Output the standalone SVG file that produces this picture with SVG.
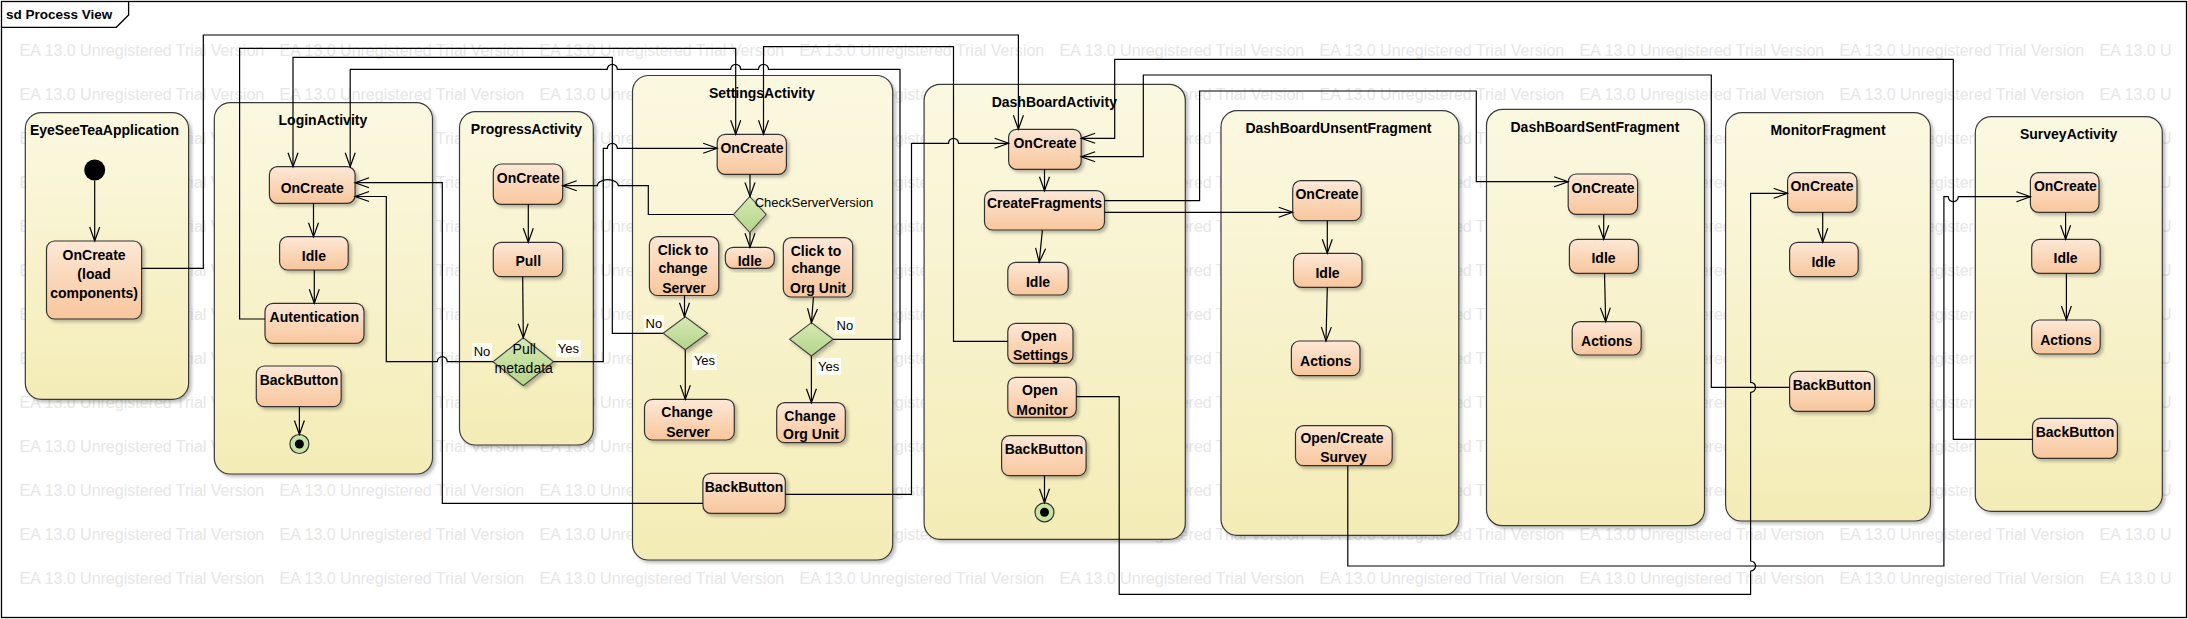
<svg xmlns="http://www.w3.org/2000/svg" width="2188" height="619" viewBox="0 0 2188 619">
<style>
.ctr{fill:url(#gC);stroke:#3a3a3a;stroke-width:1.2;filter:url(#sh)}
.nd{fill:url(#gN);stroke:#333;stroke-width:1.2;filter:url(#sh)}
.dm{fill:url(#gD);stroke:#444;stroke-width:1.1;filter:url(#sh)}
.t{font-family:"Liberation Sans",Arial,sans-serif;font-weight:bold;font-size:14px;text-anchor:middle;fill:#000}
.r{font-family:"Liberation Sans",Arial,sans-serif;font-size:14px;text-anchor:middle;fill:#000}
.lb{font-family:"Liberation Sans",Arial,sans-serif;font-size:13px;text-anchor:middle;fill:#000}
.wm{font-family:"Liberation Sans",Arial,sans-serif;font-size:16px;fill:#e6e6e6}
.cn{fill:none;stroke:#000;stroke-width:1.2;marker-end:url(#arr)}
.lbg{fill:#fffef4}
</style>
<defs>
<linearGradient id="gC" x1="0" y1="0" x2="0" y2="1"><stop offset="0" stop-color="#FBF8E1"/><stop offset="1" stop-color="#F4ECB6"/></linearGradient>
<linearGradient id="gN" x1="0" y1="0" x2="0" y2="1"><stop offset="0" stop-color="#FDE8D6"/><stop offset="1" stop-color="#F8C69C"/></linearGradient>
<linearGradient id="gD" x1="0" y1="0" x2="0" y2="1"><stop offset="0" stop-color="#D5EAB3"/><stop offset="1" stop-color="#B4D489"/></linearGradient>
<filter id="sh" x="-10%" y="-10%" width="130%" height="130%"><feDropShadow dx="2.5" dy="2.5" stdDeviation="1.5" flood-color="#000" flood-opacity="0.25"/></filter>
<marker id="arr" markerUnits="userSpaceOnUse" markerWidth="16" markerHeight="12" refX="14" refY="5" orient="auto" overflow="visible"><path d="M0,0 L14,5 L0,10" fill="none" stroke="#000" stroke-width="1.2"/></marker>
</defs>
<rect x="0" y="0" width="2188" height="619" fill="#fff"/>
<g id="watermark" class="wm">
<text y="56.4"><tspan x="19.6">EA 13.0 Unregistered Trial Version</tspan><tspan x="279.6">EA 13.0 Unregistered Trial Version</tspan><tspan x="539.6">EA 13.0 Unregistered Trial Version</tspan><tspan x="799.6">EA 13.0 Unregistered Trial Version</tspan><tspan x="1059.6">EA 13.0 Unregistered Trial Version</tspan><tspan x="1319.6">EA 13.0 Unregistered Trial Version</tspan><tspan x="1579.6">EA 13.0 Unregistered Trial Version</tspan><tspan x="1839.6">EA 13.0 Unregistered Trial Version</tspan><tspan x="2099.6">EA 13.0 U</tspan></text>
<text y="100.4"><tspan x="19.6">EA 13.0 Unregistered Trial Version</tspan><tspan x="279.6">EA 13.0 Unregistered Trial Version</tspan><tspan x="539.6">EA 13.0 Unregistered Trial Version</tspan><tspan x="799.6">EA 13.0 Unregistered Trial Version</tspan><tspan x="1059.6">EA 13.0 Unregistered Trial Version</tspan><tspan x="1319.6">EA 13.0 Unregistered Trial Version</tspan><tspan x="1579.6">EA 13.0 Unregistered Trial Version</tspan><tspan x="1839.6">EA 13.0 Unregistered Trial Version</tspan><tspan x="2099.6">EA 13.0 U</tspan></text>
<text y="144.4"><tspan x="19.6">EA 13.0 Unregistered Trial Version</tspan><tspan x="279.6">EA 13.0 Unregistered Trial Version</tspan><tspan x="539.6">EA 13.0 Unregistered Trial Version</tspan><tspan x="799.6">EA 13.0 Unregistered Trial Version</tspan><tspan x="1059.6">EA 13.0 Unregistered Trial Version</tspan><tspan x="1319.6">EA 13.0 Unregistered Trial Version</tspan><tspan x="1579.6">EA 13.0 Unregistered Trial Version</tspan><tspan x="1839.6">EA 13.0 Unregistered Trial Version</tspan><tspan x="2099.6">EA 13.0 U</tspan></text>
<text y="188.4"><tspan x="19.6">EA 13.0 Unregistered Trial Version</tspan><tspan x="279.6">EA 13.0 Unregistered Trial Version</tspan><tspan x="539.6">EA 13.0 Unregistered Trial Version</tspan><tspan x="799.6">EA 13.0 Unregistered Trial Version</tspan><tspan x="1059.6">EA 13.0 Unregistered Trial Version</tspan><tspan x="1319.6">EA 13.0 Unregistered Trial Version</tspan><tspan x="1579.6">EA 13.0 Unregistered Trial Version</tspan><tspan x="1839.6">EA 13.0 Unregistered Trial Version</tspan><tspan x="2099.6">EA 13.0 U</tspan></text>
<text y="232.4"><tspan x="19.6">EA 13.0 Unregistered Trial Version</tspan><tspan x="279.6">EA 13.0 Unregistered Trial Version</tspan><tspan x="539.6">EA 13.0 Unregistered Trial Version</tspan><tspan x="799.6">EA 13.0 Unregistered Trial Version</tspan><tspan x="1059.6">EA 13.0 Unregistered Trial Version</tspan><tspan x="1319.6">EA 13.0 Unregistered Trial Version</tspan><tspan x="1579.6">EA 13.0 Unregistered Trial Version</tspan><tspan x="1839.6">EA 13.0 Unregistered Trial Version</tspan><tspan x="2099.6">EA 13.0 U</tspan></text>
<text y="276.4"><tspan x="19.6">EA 13.0 Unregistered Trial Version</tspan><tspan x="279.6">EA 13.0 Unregistered Trial Version</tspan><tspan x="539.6">EA 13.0 Unregistered Trial Version</tspan><tspan x="799.6">EA 13.0 Unregistered Trial Version</tspan><tspan x="1059.6">EA 13.0 Unregistered Trial Version</tspan><tspan x="1319.6">EA 13.0 Unregistered Trial Version</tspan><tspan x="1579.6">EA 13.0 Unregistered Trial Version</tspan><tspan x="1839.6">EA 13.0 Unregistered Trial Version</tspan><tspan x="2099.6">EA 13.0 U</tspan></text>
<text y="320.4"><tspan x="19.6">EA 13.0 Unregistered Trial Version</tspan><tspan x="279.6">EA 13.0 Unregistered Trial Version</tspan><tspan x="539.6">EA 13.0 Unregistered Trial Version</tspan><tspan x="799.6">EA 13.0 Unregistered Trial Version</tspan><tspan x="1059.6">EA 13.0 Unregistered Trial Version</tspan><tspan x="1319.6">EA 13.0 Unregistered Trial Version</tspan><tspan x="1579.6">EA 13.0 Unregistered Trial Version</tspan><tspan x="1839.6">EA 13.0 Unregistered Trial Version</tspan><tspan x="2099.6">EA 13.0 U</tspan></text>
<text y="364.4"><tspan x="19.6">EA 13.0 Unregistered Trial Version</tspan><tspan x="279.6">EA 13.0 Unregistered Trial Version</tspan><tspan x="539.6">EA 13.0 Unregistered Trial Version</tspan><tspan x="799.6">EA 13.0 Unregistered Trial Version</tspan><tspan x="1059.6">EA 13.0 Unregistered Trial Version</tspan><tspan x="1319.6">EA 13.0 Unregistered Trial Version</tspan><tspan x="1579.6">EA 13.0 Unregistered Trial Version</tspan><tspan x="1839.6">EA 13.0 Unregistered Trial Version</tspan><tspan x="2099.6">EA 13.0 U</tspan></text>
<text y="408.4"><tspan x="19.6">EA 13.0 Unregistered Trial Version</tspan><tspan x="279.6">EA 13.0 Unregistered Trial Version</tspan><tspan x="539.6">EA 13.0 Unregistered Trial Version</tspan><tspan x="799.6">EA 13.0 Unregistered Trial Version</tspan><tspan x="1059.6">EA 13.0 Unregistered Trial Version</tspan><tspan x="1319.6">EA 13.0 Unregistered Trial Version</tspan><tspan x="1579.6">EA 13.0 Unregistered Trial Version</tspan><tspan x="1839.6">EA 13.0 Unregistered Trial Version</tspan><tspan x="2099.6">EA 13.0 U</tspan></text>
<text y="452.4"><tspan x="19.6">EA 13.0 Unregistered Trial Version</tspan><tspan x="279.6">EA 13.0 Unregistered Trial Version</tspan><tspan x="539.6">EA 13.0 Unregistered Trial Version</tspan><tspan x="799.6">EA 13.0 Unregistered Trial Version</tspan><tspan x="1059.6">EA 13.0 Unregistered Trial Version</tspan><tspan x="1319.6">EA 13.0 Unregistered Trial Version</tspan><tspan x="1579.6">EA 13.0 Unregistered Trial Version</tspan><tspan x="1839.6">EA 13.0 Unregistered Trial Version</tspan><tspan x="2099.6">EA 13.0 U</tspan></text>
<text y="496.4"><tspan x="19.6">EA 13.0 Unregistered Trial Version</tspan><tspan x="279.6">EA 13.0 Unregistered Trial Version</tspan><tspan x="539.6">EA 13.0 Unregistered Trial Version</tspan><tspan x="799.6">EA 13.0 Unregistered Trial Version</tspan><tspan x="1059.6">EA 13.0 Unregistered Trial Version</tspan><tspan x="1319.6">EA 13.0 Unregistered Trial Version</tspan><tspan x="1579.6">EA 13.0 Unregistered Trial Version</tspan><tspan x="1839.6">EA 13.0 Unregistered Trial Version</tspan><tspan x="2099.6">EA 13.0 U</tspan></text>
<text y="540.4"><tspan x="19.6">EA 13.0 Unregistered Trial Version</tspan><tspan x="279.6">EA 13.0 Unregistered Trial Version</tspan><tspan x="539.6">EA 13.0 Unregistered Trial Version</tspan><tspan x="799.6">EA 13.0 Unregistered Trial Version</tspan><tspan x="1059.6">EA 13.0 Unregistered Trial Version</tspan><tspan x="1319.6">EA 13.0 Unregistered Trial Version</tspan><tspan x="1579.6">EA 13.0 Unregistered Trial Version</tspan><tspan x="1839.6">EA 13.0 Unregistered Trial Version</tspan><tspan x="2099.6">EA 13.0 U</tspan></text>
<text y="584.4"><tspan x="19.6">EA 13.0 Unregistered Trial Version</tspan><tspan x="279.6">EA 13.0 Unregistered Trial Version</tspan><tspan x="539.6">EA 13.0 Unregistered Trial Version</tspan><tspan x="799.6">EA 13.0 Unregistered Trial Version</tspan><tspan x="1059.6">EA 13.0 Unregistered Trial Version</tspan><tspan x="1319.6">EA 13.0 Unregistered Trial Version</tspan><tspan x="1579.6">EA 13.0 Unregistered Trial Version</tspan><tspan x="1839.6">EA 13.0 Unregistered Trial Version</tspan><tspan x="2099.6">EA 13.0 U</tspan></text>
</g>
<g id="frame">
<rect x="1.5" y="1.5" width="2185" height="616" fill="none" stroke="#000" stroke-width="1.3"/>
<path d="M1.5,27.3 H116.3 L128.6,15 V1.5" fill="none" stroke="#000" stroke-width="1.3"/>
<text x="6" y="18.5" style="font-family:'Liberation Sans',Arial,sans-serif;font-weight:bold;font-size:13.5px;fill:#000">sd Process View</text>
</g>
<g id="EyeSeeTeaApplication"><rect class="ctr" x="25.3" y="112.7" width="163.3" height="286.6" rx="16"/><text class="t" x="104.5" y="135">EyeSeeTeaApplication</text></g>
<g id="LoginActivity"><rect class="ctr" x="214.3" y="102.7" width="218.2" height="371.3" rx="16"/><text class="t" x="322.9" y="125">LoginActivity</text></g>
<g id="ProgressActivity"><rect class="ctr" x="459.5" y="111.7" width="133.8" height="333.3" rx="16"/><text class="t" x="526.5" y="134">ProgressActivity</text></g>
<g id="SettingsActivity"><rect class="ctr" x="632.5" y="75.5" width="260.2" height="484.5" rx="16"/><text class="t" x="761.8" y="97.7">SettingsActivity</text></g>
<g id="DashBoardActivity"><rect class="ctr" x="924.1" y="84.3" width="261.2" height="455" rx="16"/><text class="t" x="1054.3" y="106.7">DashBoardActivity</text></g>
<g id="DashBoardUnsentFragment"><rect class="ctr" x="1221" y="110.7" width="237.8" height="424.6" rx="16"/><text class="t" x="1338.4" y="132.7">DashBoardUnsentFragment</text></g>
<g id="DashBoardSentFragment"><rect class="ctr" x="1486.5" y="109.3" width="218" height="416.4" rx="16"/><text class="t" x="1594.9" y="131.7">DashBoardSentFragment</text></g>
<g id="MonitorFragment"><rect class="ctr" x="1725.6" y="112.7" width="204.8" height="408.3" rx="16"/><text class="t" x="1828" y="135">MonitorFragment</text></g>
<g id="SurveyActivity"><rect class="ctr" x="1975.3" y="116.7" width="187" height="394.6" rx="16"/><text class="t" x="2068.6" y="139.3">SurveyActivity</text></g>

<g id="eye_initial"><circle cx="94.7" cy="170" r="10.5" fill="#000"/></g>
<g id="eye_oncreate"><rect class="nd" x="46.5" y="241" width="95.1" height="78" rx="8"/><text class="t" x="94.1" y="260">OnCreate</text><text class="t" x="94.1" y="279">(load</text><text class="t" x="94.1" y="298">components)</text></g>

<g id="login_oncreate"><rect class="nd" x="269.4" y="166.7" width="85.7" height="36.6" rx="8"/><text class="t" x="312.2" y="192.7">OnCreate</text></g>
<g id="login_idle"><rect class="nd" x="279.6" y="236.7" width="68.6" height="33.3" rx="8"/><text class="t" x="313.9" y="260.7">Idle</text></g>
<g id="login_autentication"><rect class="nd" x="265" y="303.3" width="99" height="40" rx="8"/><text class="t" x="314.3" y="321.7">Autentication</text></g>
<g id="login_backbutton"><rect class="nd" x="256.3" y="366" width="84.9" height="40.7" rx="8"/><text class="t" x="299" y="385">BackButton</text></g>
<g id="login_final"><circle cx="299.4" cy="444" r="9.5" fill="#c8e2a4" stroke="#333" stroke-width="1.2"/><circle cx="299.4" cy="444" r="4.5" fill="#000"/></g>

<g id="progress_oncreate"><rect class="nd" x="493.3" y="164" width="69.4" height="40.3" rx="8"/><text class="t" x="528.3" y="182.7">OnCreate</text></g>
<g id="progress_pull"><rect class="nd" x="493.3" y="242.3" width="69.4" height="34.4" rx="8"/><text class="t" x="528.3" y="266">Pull</text></g>
<g id="progress_pullmetadata"><polygon class="dm" points="523.3,337.7 553.6,361.7 523.3,385.7 493,361.7"/><text class="r" x="524.3" y="354.3">Pull</text><text class="r" x="523.7" y="373.3">metadata</text></g>

<g id="settings_oncreate"><rect class="nd" x="717.2" y="134.3" width="69.2" height="40" rx="8"/><text class="t" x="752" y="153.3">OnCreate</text></g>
<g id="settings_checkserverversion"><polygon class="dm" points="749.8,196.5 766.1,214.5 749.8,232.5 733.5,214.5"/><text class="lb" x="754.7" y="207.3" style="text-anchor:start">CheckServerVersion</text></g>
<g id="settings_idle"><rect class="nd" x="725.3" y="247.3" width="49" height="21" rx="8"/><text class="t" x="749.8" y="265.7">Idle</text></g>
<g id="settings_clickserver"><rect class="nd" x="649.4" y="236.7" width="69.4" height="58.8" rx="8"/><text class="t" x="683" y="255">Click to</text><text class="t" x="683" y="272.7">change</text><text class="t" x="684" y="292.7">Server</text></g>
<g id="settings_serverdecision"><polygon class="dm" points="685.3,316.8 707.5,333.3 685.3,349.8 663.1,333.3"/></g>
<g id="settings_changeserver"><rect class="nd" x="644.5" y="399.3" width="89.8" height="40.7" rx="8"/><text class="t" x="687" y="417.3">Change</text><text class="t" x="688" y="436.7">Server</text></g>
<g id="settings_clickorgunit"><rect class="nd" x="783.3" y="237.7" width="69.4" height="59.3" rx="8"/><text class="t" x="816" y="256">Click to</text><text class="t" x="816" y="273.3">change</text><text class="t" x="818" y="292.7">Org Unit</text></g>
<g id="settings_orgdecision"><polygon class="dm" points="811.4,322.6 833.2,339.3 811.4,356 789.6,339.3"/></g>
<g id="settings_changeorgunit"><rect class="nd" x="776.7" y="402.7" width="68.6" height="40" rx="8"/><text class="t" x="810" y="420.7">Change</text><text class="t" x="811" y="439.3">Org Unit</text></g>
<g id="settings_backbutton"><rect class="nd" x="702.9" y="473.3" width="82.4" height="40" rx="8"/><text class="t" x="744" y="491.7">BackButton</text></g>

<g id="db_oncreate"><rect class="nd" x="1008.6" y="129.3" width="72.6" height="40" rx="8"/><text class="t" x="1045" y="147.7">OnCreate</text></g>
<g id="db_createfragments"><rect class="nd" x="984.5" y="190.7" width="120" height="39.3" rx="8"/><text class="t" x="1044.5" y="208.3">CreateFragments</text></g>
<g id="db_idle"><rect class="nd" x="1007.8" y="262.3" width="60.4" height="32.7" rx="8"/><text class="t" x="1038" y="286.7">Idle</text></g>
<g id="db_opensettings"><rect class="nd" x="1007.8" y="323.3" width="65.2" height="40" rx="8"/><text class="t" x="1039" y="340.7">Open</text><text class="t" x="1040.5" y="360">Settings</text></g>
<g id="db_openmonitor"><rect class="nd" x="1007.8" y="377.3" width="68.5" height="40" rx="8"/><text class="t" x="1040" y="395">Open</text><text class="t" x="1042" y="415">Monitor</text></g>
<g id="db_backbutton"><rect class="nd" x="1001.6" y="435.7" width="84.5" height="40" rx="8"/><text class="t" x="1044" y="454">BackButton</text></g>
<g id="db_final"><circle cx="1044.5" cy="512.3" r="9.5" fill="#c8e2a4" stroke="#333" stroke-width="1.2"/><circle cx="1044.5" cy="512.3" r="4.5" fill="#000"/></g>

<g id="unsent_oncreate"><rect class="nd" x="1292.7" y="180.7" width="68.5" height="40" rx="8"/><text class="t" x="1327" y="199">OnCreate</text></g>
<g id="unsent_idle"><rect class="nd" x="1293.5" y="253.3" width="68.5" height="34" rx="8"/><text class="t" x="1327.5" y="277.7">Idle</text></g>
<g id="unsent_actions"><rect class="nd" x="1291.4" y="341" width="68.6" height="34.7" rx="8"/><text class="t" x="1325.7" y="366">Actions</text></g>
<g id="unsent_opencreatesurvey"><rect class="nd" x="1295.5" y="425.7" width="96.7" height="40" rx="8"/><text class="t" x="1342" y="443.3">Open/Create</text><text class="t" x="1343.5" y="461.7">Survey</text></g>

<g id="sent_oncreate"><rect class="nd" x="1568.2" y="174" width="69.4" height="40.3" rx="8"/><text class="t" x="1603" y="192.7">OnCreate</text></g>
<g id="sent_idle"><rect class="nd" x="1569.4" y="239.3" width="69" height="34" rx="8"/><text class="t" x="1603.5" y="263.3">Idle</text></g>
<g id="sent_actions"><rect class="nd" x="1572.2" y="321.7" width="69" height="33.3" rx="8"/><text class="t" x="1606.7" y="346">Actions</text></g>

<g id="monitor_oncreate"><rect class="nd" x="1787.6" y="172.7" width="69.4" height="39.6" rx="8"/><text class="t" x="1822" y="190.7">OnCreate</text></g>
<g id="monitor_idle"><rect class="nd" x="1789.6" y="242.3" width="68.6" height="34.4" rx="8"/><text class="t" x="1823.5" y="266.7">Idle</text></g>
<g id="monitor_backbutton"><rect class="nd" x="1789.6" y="371.3" width="84.9" height="40" rx="8"/><text class="t" x="1832" y="390">BackButton</text></g>

<g id="survey_oncreate"><rect class="nd" x="2030.4" y="172.7" width="68.6" height="39.6" rx="8"/><text class="t" x="2065.4" y="190.7">OnCreate</text></g>
<g id="survey_idle"><rect class="nd" x="2031.7" y="239.3" width="68.5" height="34" rx="8"/><text class="t" x="2065.6" y="263.3">Idle</text></g>
<g id="survey_actions"><rect class="nd" x="2031.7" y="320" width="68.5" height="34" rx="8"/><text class="t" x="2065.8" y="345">Actions</text></g>
<g id="survey_backbutton"><rect class="nd" x="2032.5" y="418.3" width="84.9" height="40" rx="8"/><text class="t" x="2075" y="436.7">BackButton</text></g>

<g id="connectors">
<path class="cn" d="M94.7,180.5 V241"/>
<path class="cn" d="M313.5,203.3 V236.7"/>
<path class="cn" d="M314.3,270 V303.3"/>
<path class="cn" d="M299.4,406.7 V434.5"/>
<path class="cn" d="M528.3,204.3 V242.3"/>
<path class="cn" d="M522.7,276.7 L523.3,337.7"/>
<path class="cn" d="M750,174.3 V196.5"/>
<path class="cn" d="M750,232.5 V247.3"/>
<path class="cn" d="M684.5,295.5 V316.8"/>
<path class="cn" d="M685.3,349.8 V399.3"/>
<path class="cn" d="M813.5,297 L811.4,322.6"/>
<path class="cn" d="M811.4,356 V402.7"/>
<path class="cn" d="M1044.5,169.3 V190.7"/>
<path class="cn" d="M1042.4,230 L1039.2,262.3"/>
<path class="cn" d="M1044.5,475.7 V502.8"/>
<path class="cn" d="M1327.3,220.7 V253.3"/>
<path class="cn" d="M1327.3,287.3 L1326,341"/>
<path class="cn" d="M1603.7,214.3 V239.3"/>
<path class="cn" d="M1604.5,273.3 L1605.7,321.7"/>
<path class="cn" d="M1822.7,212.3 V242.3"/>
<path class="cn" d="M2065.6,212.3 V239.3"/>
<path class="cn" d="M2066.4,273.3 V320"/>

<path class="cn" d="M141.6,268.3 H203.3 V35 H1018.4 V129.3"/>
<path class="cn" d="M265,319 H239.6 V48.3 H735.7 V134.3"/>
<path class="cn" d="M663.1,333.3 H612.3 V57.3 H293 V166.7"/>
<path class="cn" d="M833.2,339.3 H900 V69.3 H768.5 A5,5 0 0 0 758.5,69.3 H740.7 A5,5 0 0 0 730.7,69.3 H617.3 A5,5 0 0 0 607.3,69.3 H350.2 V166.7"/>
<path class="cn" d="M553.6,361.7 H603.3 V148.3 H607.3 A5,5 0 0 1 617.3,148.3 H717.2"/>
<path class="cn" d="M733.5,214.5 H648.3 V185.7 H618.3 A10.5,6 0 0 0 597.3,185.7 H562.7"/>
<path class="cn" d="M702.9,503.3 H442.3 V182.7 H355.1"/>
<path class="cn" d="M493,361.7 H447.3 A5,5 0 0 0 437.3,361.7 H386.3 V196.5 H355.1"/>
<path class="cn" d="M785.3,494.3 H911.5 V143.3 H948.5 A5,5 0 0 1 958.5,143.3 H1008.6"/>
<path class="cn" d="M1007.8,341.3 H953.5 V46.7 H763.5 V134.3"/>
<path class="cn" d="M1104.5,200.7 H1199.6 V91 H1476.3 V181.7 H1568.2"/>
<path class="cn" d="M1104.5,212.3 H1292.7"/>
<path class="cn" d="M1076.3,396.7 H1119.2 V594.3 H1750.6 V571 A5,5 0 0 0 1750.6,561 V392.3 A5,5 0 0 0 1750.6,382.3 V193.3 H1787.6"/>
<path class="cn" d="M1789.6,387.3 H1711.3 V75 H1143.3 V156.7 H1081.2"/>
<path class="cn" d="M2032.5,439.3 H1953.3 V59.3 H1114.7 V138.3 H1081.2"/>
<path class="cn" d="M1347.8,465.7 V566 H1943.9 V196.7 H1948.3 A5,5 0 0 0 1958.3,196.7 H2030.4"/>

<rect class="lbg" x="472" y="343" width="20" height="17"/><text class="lb" x="482" y="355.7">No</text>
<rect class="lbg" x="556" y="340" width="25" height="17"/><text class="lb" x="568.3" y="352.7">Yes</text>
<rect class="lbg" x="644" y="315" width="20" height="17"/><text class="lb" x="653.9" y="327.7">No</text>
<rect class="lbg" x="692" y="353" width="25" height="17"/><text class="lb" x="704.5" y="365.3">Yes</text>
<rect class="lbg" x="835" y="317" width="20" height="17"/><text class="lb" x="844.9" y="330">No</text>
<rect class="lbg" x="816" y="358" width="25" height="17"/><text class="lb" x="828.6" y="371">Yes</text>
</g>
</svg>
